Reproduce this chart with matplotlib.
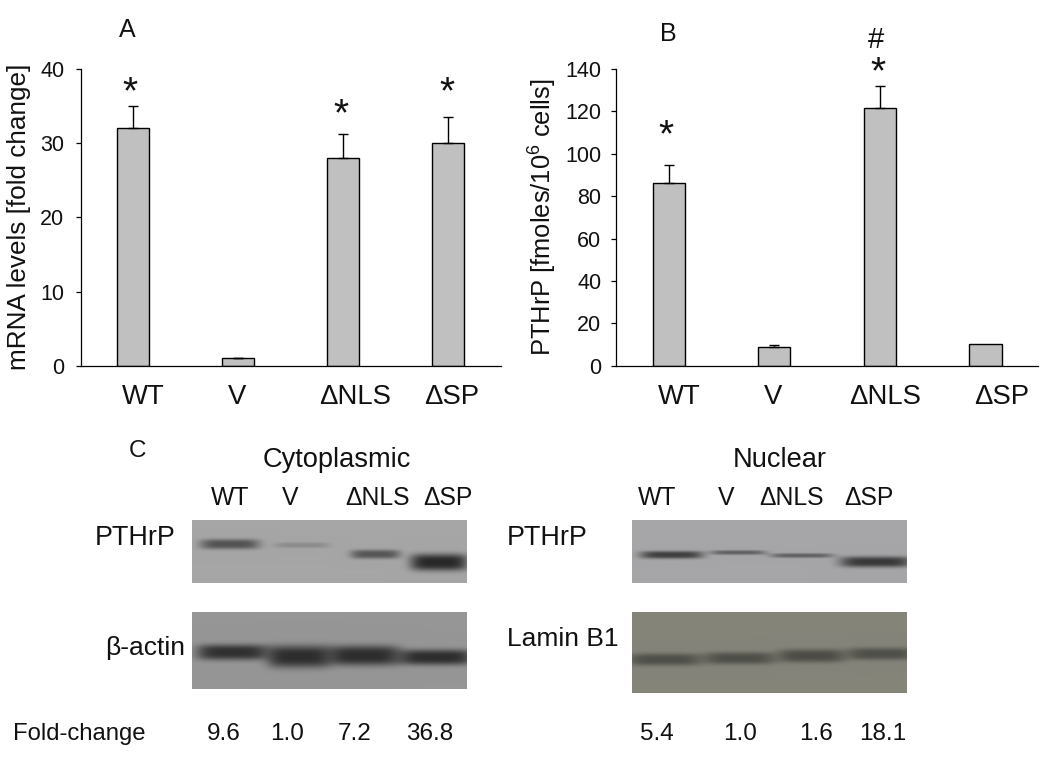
import numpy as np
import matplotlib
matplotlib.use("Agg")
import matplotlib.pyplot as plt

plt.rcParams['font.family'] = ['Liberation Sans', 'DejaVu Sans']
plt.rcParams['mathtext.fontset'] = 'custom'
plt.rcParams['mathtext.rm'] = 'Liberation Sans'
plt.rcParams['mathtext.default'] = 'regular'

# ---- data ----
categories = ['WT', 'V', '\u0394NLS', '\u0394SP']
mrna_values = [32, 1, 28, 30]
mrna_err = [3.0, 0.1, 3.2, 3.5]
pthrp_values = [86, 8.7, 121.7, 10.3]
pthrp_err = [8.7, 1.1, 10.3, 0]
mrna_ticks = [0, 10, 20, 30, 40]
pthrp_ticks = [0, 20, 40, 60, 80, 100, 120, 140]
cyto_fold = ['9.6', '1.0', '7.2', '36.8']
nuc_fold = ['5.4', '1.0', '1.6', '18.1']
cyto_pthrp_density = [0.50, 0.16, 0.48, 0.76]
cyto_actin_density = [0.68, 0.70, 0.70, 0.70]
nuc_pthrp_density = [0.62, 0.42, 0.42, 0.66]
nuc_lamin_density = [0.40, 0.40, 0.42, 0.40]

W, H = 1050, 759
fig = plt.figure(figsize=(W / 100, H / 100), dpi=100, facecolor='white')
INK = '#111111'


def label(x, y, s, size=16, ha='center', va='center', **kw):
    return fig.text(x / W, 1 - y / H, s, fontsize=size, ha=ha, va=va, color=INK, **kw)


def bar_panel(left, right, values, errs, ticks, ymax, pad):
    ax = fig.add_axes([left / W, 1 - 365.7 / H, (right - left) / W, 296.7 / H])
    x = np.arange(len(values))
    ax.bar(x, values, width=0.304, color='#c0c0c0', edgecolor='black', linewidth=1.0)
    for xi, v, e in zip(x, values, errs):
        if e > 0:
            ax.errorbar(xi, v, yerr=[[0], [e]], ecolor='black', elinewidth=1.0,
                        capsize=3.6, capthick=1.0, fmt='none')
    ax.set_xlim(-0.5, len(values) - 0.5)
    ax.set_ylim(0, ymax)
    ax.set_xticks([])
    ax.set_yticks(ticks)
    ax.tick_params(axis='y', length=3.6, width=0.9, pad=pad, labelsize=15.5, labelcolor=INK)
    for s in ('top', 'right'):
        ax.spines[s].set_visible(False)
    for s in ('left', 'bottom'):
        ax.spines[s].set_linewidth(0.9)
    return ax


ax_a = bar_panel(80.5, 501, mrna_values, mrna_err, mrna_ticks, 40, 8)
ax_b = bar_panel(616, 1038.3, pthrp_values, pthrp_err, pthrp_ticks, 140, 7)

for cx, c in zip([143, 237, 355, 452], categories):
    label(cx, 397, c, size=19.8)
for cx, c in zip([679, 773, 885, 1002], categories):
    label(cx, 397, c, size=19.8)

label(19, 217, 'mRNA levels [fold change]', size=18.8, rotation=90)
label(543, 217, 'PTHrP [fmoles/10$^{6}$ cells]', size=18.4, rotation=90)

label(127, 30, 'A', size=18)
label(668, 34, 'B', size=18)
label(138, 451, 'C', size=17.5)

for sx, sy in [(130, 93), (341, 115), (447, 93), (666, 136), (878, 73)]:
    label(sx, sy, '*', size=28)
label(876, 40, '#', size=21)


def blot(x0, x1, y0, y1, bg, bands, density):
    xs = np.arange(x0, x1, 0.5)
    ys = np.arange(y0, y1, 0.5)
    X, Y = np.meshgrid(xs, ys)
    shade = np.ones_like(X)
    for (a, b, cy, hh), d in zip(bands, density):
        cx, hw = (a + b) / 2, (b - a) / 2 * 1.1
        m = np.exp(-np.abs((X - cx) / hw) ** 5 - np.abs((Y - cy) / (hh * 1.1)) ** 3)
        shade *= 1 - d * m
    img = np.dstack([np.full_like(X, c) * shade for c in bg]) / 255
    ax = fig.add_axes([x0 / W, 1 - y1 / H, (x1 - x0) / W, (y1 - y0) / H])
    ax.imshow(img, aspect='auto', interpolation='bilinear')
    ax.axis('off')
    return ax


blot(192.3, 467, 520, 583.3, (166, 166, 166),
     [(203, 257, 544.7, 4.5), (277, 327, 545.7, 2.5), (353, 398, 554.7, 4), (413, 465, 562.7, 7.5)],
     cyto_pthrp_density)
blot(192.3, 467, 611.7, 688.7, (150, 150, 150),
     [(200, 265, 651.7, 7), (270, 328, 656, 10), (331, 397, 655, 9), (402, 470, 656.7, 7)],
     cyto_actin_density)
blot(632, 906.7, 520, 583.3, (166, 166, 168),
     [(643, 700, 555.3, 3.4), (713, 763, 553, 2.0), (773, 830, 556, 2.0), (843, 908, 562.3, 4.8)],
     nuc_pthrp_density)
blot(632, 906.7, 611.7, 693.3, (132, 132, 122),
     [(631, 698, 660, 5.5), (707, 772, 658.7, 5.5), (781, 842, 656.3, 6), (850, 911, 654.3, 5.5)],
     nuc_lamin_density)

label(337, 460, 'Cytoplasmic', size=19.6)
label(780, 460, 'Nuclear', size=19.6)
for cx, c in zip([230, 290, 378, 448], categories):
    label(cx, 498, c, size=17.8)
for cx, c in zip([656.7, 725.7, 792, 869], categories):
    label(cx, 498, c, size=17.8)

label(95, 538, 'PTHrP', size=19.4, ha='left')
label(105, 648, '\u03b2-actin', size=19, ha='left')
label(506.7, 538, 'PTHrP', size=19.4, ha='left')
label(506.7, 639, 'Lamin B1', size=19, ha='left')

label(12.7, 734, 'Fold-change', size=17.2, ha='left')
for cx, v in zip([224, 287, 355, 430], cyto_fold):
    label(cx, 734, v, size=17.5)
for cx, v in zip([656.7, 740, 815.7, 882.7], nuc_fold):
    label(cx, 734, v, size=17.5)

fig.savefig('out.png', dpi=100)
